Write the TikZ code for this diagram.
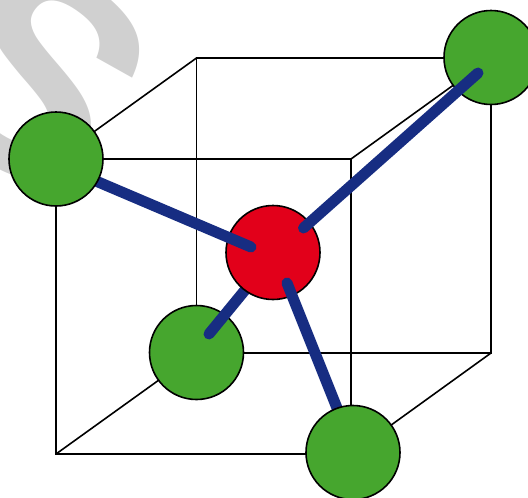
\documentclass[tikz,border=0pt]{standalone}
\usepackage{fontspec}
\setmainfont{Liberation Sans}
\definecolor{bondblue}{HTML}{172D82}
\definecolor{atomgreen}{HTML}{46A62E}
\definecolor{atomred}{HTML}{E2001A}
\definecolor{markgray}{HTML}{D0D0D0}
\tikzset{
  edge/.style={draw=black,line width=1.6pt},
  atom/.style={circle,draw=black,line width=1.6pt,minimum size=94pt,inner sep=0pt},
  bond/.style={draw=bondblue,line width=11pt,line cap=round},
}
\begin{document}
\begin{tikzpicture}[x=1pt,y=-1pt]
\useasboundingbox (0,0) rectangle (528,498);
\clip (0,0) rectangle (528,498);
\node[text=markgray,rotate=-37,inner sep=0pt] (mark) at (37,72) {\fontsize{290}{290}\selectfont\bfseries S};
\coordinate (f1) at (56,159);
\coordinate (f2) at (351,159);
\coordinate (f3) at (351,454);
\coordinate (f4) at (56,454);
\coordinate (b1) at (196.5,58);
\coordinate (b2) at (491,58);
\coordinate (b3) at (491,353);
\coordinate (b4) at (196.5,353);
\draw[edge,line join=miter] (f1)--(f2)--(f3)--(f4)--cycle;
\draw[edge,line join=miter] (b1)--(b2)--(b3)--(b4)--cycle;
\draw[edge] (f1)--(b1) (f2)--(b2) (f3)--(b3) (f4)--(b4);
\coordinate (rA) at (251,247);
\coordinate (rB) at (303.5,228);
\coordinate (rC) at (287,283);
\coordinate (gA) at (70,170);
\coordinate (gB) at (478,73);
\coordinate (gC) at (209,334);
\coordinate (gD) at (345,428);
\coordinate (rD) at (250,284);
\node[atom,fill=atomgreen] (back) at (196.5,352.5) {};
\draw[bond] (gC)--(rD);
\node[atom,fill=atomred] (center) at (273,252.5) {};
\draw[bond] (gA)--(rA);
\draw[bond] (rC)--(gD);
\node[atom,fill=atomgreen] (left) at (56,159) {};
\node[atom,fill=atomgreen] (front) at (353,452.5) {};
\node[atom,fill=atomgreen] (right) at (491,57.5) {};
\draw[bond] (rB)--(gB);
\end{tikzpicture}
\end{document}
